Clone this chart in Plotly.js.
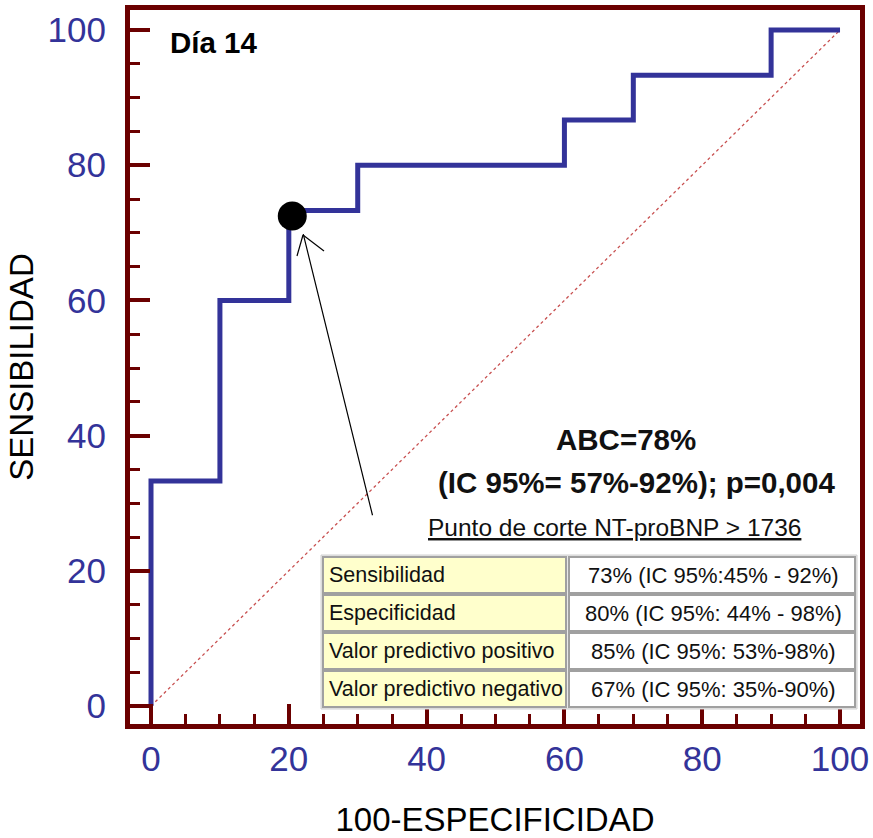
<!DOCTYPE html>
<html>
<head>
<meta charset="utf-8">
<script src="https://cdn.plot.ly/plotly-3.0.1.min.js"></script>
<style>html,body{margin:0;padding:0;background:#fff;} #chart{width:873px;height:838px;}</style>
</head>
<body>
<div id="chart"></div>
<script>
// ROC curve (100 - especificidad vs sensibilidad)
var rocX = [0, 0, 10, 10, 20, 20, 30, 30, 60, 60, 70, 70, 90, 90, 100];
var rocY = [0, 33.3, 33.3, 60, 60, 73.3, 73.3, 80, 80, 86.7, 86.7, 93.3, 93.3, 100, 100];
// reference diagonal
var refX = [0, 100];
var refY = [0, 100];
// cut-off point
var cutX = [20.5];
var cutY = [72.5];
// tick values
var tickVals = [0, 20, 40, 60, 80, 100];
var tickText = ['0', '20', '40', '60', '80', '100'];
// table
var rowLabels = ['Sensibilidad', 'Especificidad', 'Valor predictivo positivo', 'Valor predictivo negativo'];
var rowValues = ['73% (IC 95%:45% - 92%)', '80% (IC 95%: 44% - 98%)', '85% (IC 95%: 53%-98%)', '67% (IC 95%: 35%-90%)'];
var panelTitle = 'Día 14';
var aucText = 'ABC=78%';
var ciText = '(IC 95%= 57%-92%); p=0,004';
var cutText = 'Punto de corte NT-proBNP > 1736';

var W = 873, H = 838;
var L = 130, R = 860, T = 10, B = 724;
function px(x) { return (x - L) / (R - L); }
function py(y) { return (B - y) / (B - T); }

var frame = '#6b0000';
var blue = '#333399';
var font = 'Arial, "Liberation Sans", sans-serif';

var traces = [
  { x: refX, y: refY, mode: 'lines', line: { color: '#c85050', width: 1.3, dash: 'dot' }, hoverinfo: 'skip' },
  { x: rocX, y: rocY, mode: 'lines', line: { color: blue, width: 5 }, hoverinfo: 'skip' },
  { x: cutX, y: cutY, mode: 'markers', marker: { color: '#000', size: 29 }, hoverinfo: 'skip' }
];

var shapes = [];
var annotations = [];

// arrow (decoration)
annotations.push({
  x: 22.1, y: 69.8, xref: 'x', yref: 'y',
  ax: 32.2, ay: 28.0, axref: 'x', ayref: 'y',
  showarrow: true, arrowhead: 0, arrowwidth: 1.2, arrowcolor: '#000', text: ''
});
shapes.push({ type: 'line', xref: 'paper', yref: 'paper', x0: px(303), y0: py(235), x1: px(297), y1: py(256), line: { color: '#000', width: 1.2 } });
shapes.push({ type: 'line', xref: 'paper', yref: 'paper', x0: px(303), y0: py(235), x1: px(324), y1: py(251), line: { color: '#000', width: 1.2 } });

// table background
shapes.push({ type: 'rect', xref: 'paper', yref: 'paper', x0: px(321), x1: px(857), y0: py(709), y1: py(555), fillcolor: '#e8e8e8', line: { color: '#d0d0d0', width: 1 }, layer: 'above' });
var rowTop = [557, 595, 633, 671];
var rowBot = [593, 631, 669, 707];
for (var i = 0; i < rowLabels.length; i++) {
  shapes.push({ type: 'rect', xref: 'paper', yref: 'paper', x0: px(323), x1: px(566), y0: py(rowBot[i]), y1: py(rowTop[i]), fillcolor: '#ffffcc', line: { color: '#a0a0a0', width: 2 }, layer: 'above' });
  shapes.push({ type: 'rect', xref: 'paper', yref: 'paper', x0: px(569), x1: px(855), y0: py(rowBot[i]), y1: py(rowTop[i]), fillcolor: '#ffffff', line: { color: '#a0a0a0', width: 2 }, layer: 'above' });
  var cy = py((rowTop[i] + rowBot[i]) / 2);
  annotations.push({ xref: 'paper', yref: 'paper', x: px(327), y: cy, xanchor: 'left', yanchor: 'middle', showarrow: false, text: rowLabels[i], font: { family: font, size: 21.5, color: '#111' } });
  annotations.push({ xref: 'paper', yref: 'paper', x: px(713), y: cy, xanchor: 'center', yanchor: 'middle', showarrow: false, text: rowValues[i], font: { family: font, size: 22, color: '#111' } });
}

annotations.push({ xref: 'paper', yref: 'paper', x: px(214), y: py(43), xanchor: 'center', yanchor: 'middle', showarrow: false, text: '<b>' + panelTitle + '</b>', font: { family: font, size: 29.5, color: '#000' } });
annotations.push({ xref: 'paper', yref: 'paper', x: px(626), y: py(439), xanchor: 'center', yanchor: 'middle', showarrow: false, text: '<b>' + aucText + '</b>', font: { family: font, size: 29.5, color: '#111' } });
annotations.push({ xref: 'paper', yref: 'paper', x: px(636), y: py(482), xanchor: 'center', yanchor: 'middle', showarrow: false, text: '<b>' + ciText + '</b>', font: { family: font, size: 29.5, color: '#111' } });
annotations.push({ xref: 'paper', yref: 'paper', x: px(614), y: py(527), xanchor: 'center', yanchor: 'middle', showarrow: false, text: '<u>' + cutText + '</u>', font: { family: font, size: 24.5, color: '#111' } });

var axisCommon = {
  showgrid: false, zeroline: false,
  showline: true, linecolor: frame, linewidth: 5, mirror: true,
  ticks: 'inside', ticklen: 20, tickwidth: 4, tickcolor: frame,
  tickvals: tickVals, ticktext: tickText,
  tickfont: { family: font, size: 35, color: blue },
  minor: { dtick: 5, tick0: 0, ticks: 'inside', ticklen: 10, tickwidth: 3, tickcolor: frame, showgrid: false },
  fixedrange: true
};

var layout = {
  width: W, height: H,
  margin: { l: L, r: W - R, t: T, b: H - B, autoexpand: false },
  paper_bgcolor: '#fff', plot_bgcolor: '#fff',
  showlegend: false,
  xaxis: Object.assign({}, axisCommon, {
    range: [-3.05, 102.9],
    title: { text: '100-ESPECIFICIDAD', font: { family: font, size: 33, color: '#000' }, standoff: 40 },
    automargin: false
  }),
  yaxis: Object.assign({}, axisCommon, {
    range: [-2.66, 102.96],
    ticklabelstandoff: 12,
    title: { text: 'SENSIBILIDAD', font: { family: font, size: 33, color: '#000' }, standoff: 6 },
    automargin: false
  }),
  shapes: shapes,
  annotations: annotations
};

Plotly.newPlot('chart', traces, layout, { displayModeBar: false, staticPlot: true });
</script>
</body>
</html>
